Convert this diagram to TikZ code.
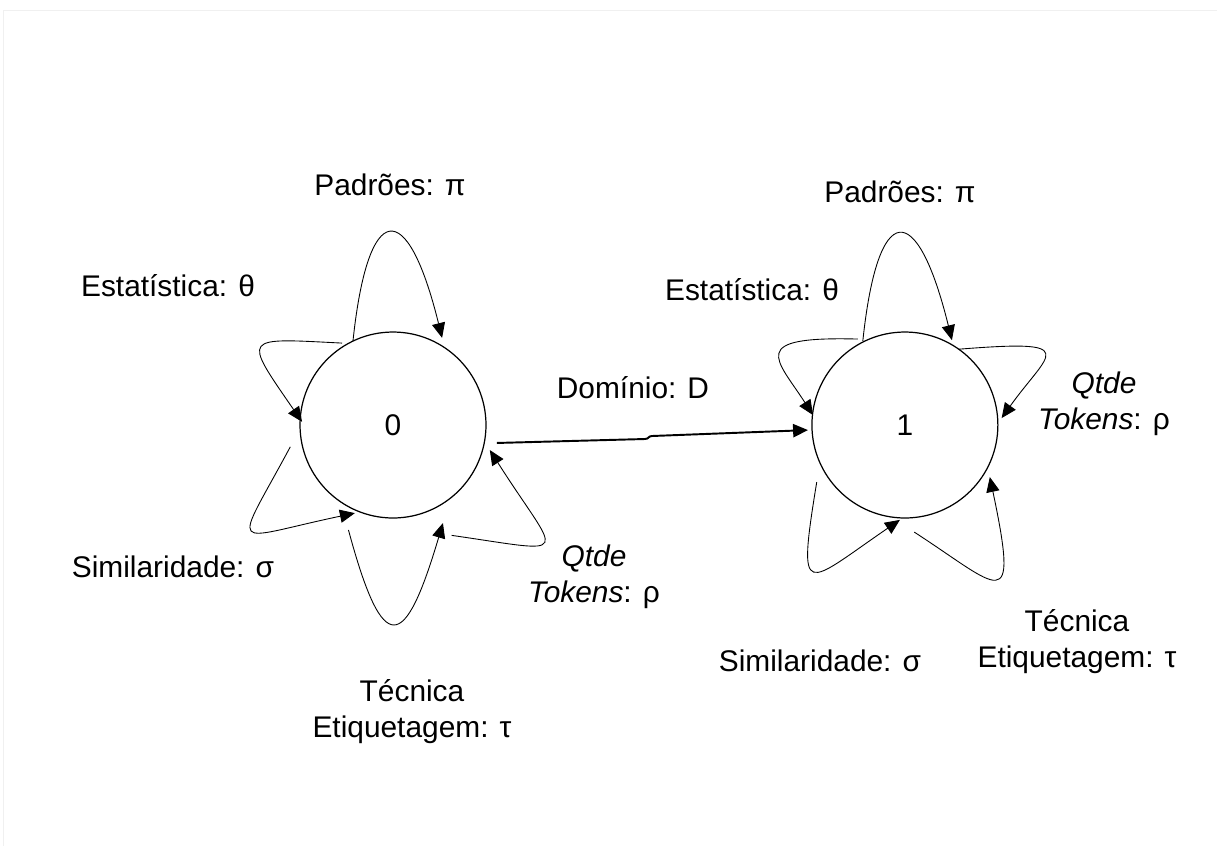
\documentclass[tikz,border=0pt]{standalone}
\usepackage{fontspec}
\setmainfont{Liberation Sans}
\usetikzlibrary{automata, positioning, calc, arrows.meta}

\begin{document}
\begin{tikzpicture}[x=0.02cm, y=0.02cm, node distance=10.24cm, on grid,
        every node/.style={font=\fontsize{17pt}{20.4pt}\selectfont},
        every state/.style={minimum size=3.72cm, inner sep=0pt, line width=0.7pt},
        loopy/.style={-{Triangle[length=8.5pt,width=7.5pt]}, line width=0.5pt},
        lbl/.style={align=center, inner sep=0pt}]
        \useasboundingbox (0,0) rectangle (1217,-846);
        \draw[black!6] (3,-846) |- (1217,-10);

        % Define the nodes
        \node[state] (q_0) at (393,-425) {0};
        \node[state] (q_1) [right=of q_0] {1};

        % Define the transitions
        \draw[-{Triangle[length=8.5pt,width=7.5pt]}, line width=1.1pt]
            ($(q_0)+(-9.8:105.5)$) -- (645,-439)
            .. controls +(4,0) and +(-4,0) .. (652,-436)
            -- ($(q_1)+(183:97)$);
        \node[anchor=base] (dom) at (633,-398) {Domínio: D};

        % loops on state 0
        \draw[loopy] ($(q_0)+(115.5:93)$) .. controls +(15,142) and +(-35,142) .. ($(q_0)+(60.6:100)$);
        \draw[loopy] ($(q_0)+(121.9:96.5)$) .. controls +(-100,5) and +(-60,87) .. ($(q_0)+(178:91)$);
        \draw[loopy] ($(q_0)+(192:105)$) .. controls +(-58,-108) and +(-128,-27) .. ($(q_0)+(246.6:96)$);
        \draw[loopy] ($(q_0)+(247:114)$) .. controls +(35,-130) and +(-38,-128) .. ($(q_0)+(297:110)$);
        \draw[loopy] ($(q_0)+(298:125)$) .. controls +(125,-18) and +(70,-110) .. ($(q_0)+(345.5:100)$);

        \node[lbl, anchor=base] (pad0) at (390,-195) {Padrões: π};
        \node[lbl, anchor=base] (est0) at (168,-296) {Estatística: θ};
        \node[lbl, anchor=base] (sim0) at (173,-577) {Similaridade: σ};
        \node[lbl] (tec0) at (412,-712) {Técnica\\Etiquetagem: τ};
        \node[lbl] (qtd0) at (594,-577) {\textit{Qtde}\\\textit{Tokens}: ρ};

        % loops on state 1
        \draw[loopy] ($(q_1)+(116.6:94)$) .. controls +(15,142) and +(-35,142) .. ($(q_1)+(61:97)$);
        \draw[loopy] ($(q_1)+(118.7:98)$) .. controls +(-112,3) and +(-36,56) .. ($(q_1)+(173.8:92.5)$);
        \draw[loopy] ($(q_1)+(54.6:93)$) .. controls +(125,10) and +(47,66) .. ($(q_1)+(4.1:97)$);
        \draw[loopy] ($(q_1)+(212.9:105)$) .. controls +(-20,-122) and +(-95,-65) .. ($(q_1)+(267:95)$);
        \draw[loopy] ($(q_1)+(275:107.5)$) .. controls +(85,-55) and +(30,-142) .. ($(q_1)+(328.5:99.6)$);

        \node[lbl, anchor=base] (pad1) at (900,-202) {Padrões: π};
        \node[lbl, anchor=base] (est1) at (752,-300) {Estatística: θ};
        \node[lbl, anchor=base] (sim1) at (820,-671) {Similaridade: σ};
        \node[lbl] (tec1) at (1077,-642) {Técnica\\Etiquetagem: τ};
        \node[lbl] (qtd1) at (1104,-404) {\textit{Qtde}\\\textit{Tokens}: ρ};
    \end{tikzpicture}
\end{document}
